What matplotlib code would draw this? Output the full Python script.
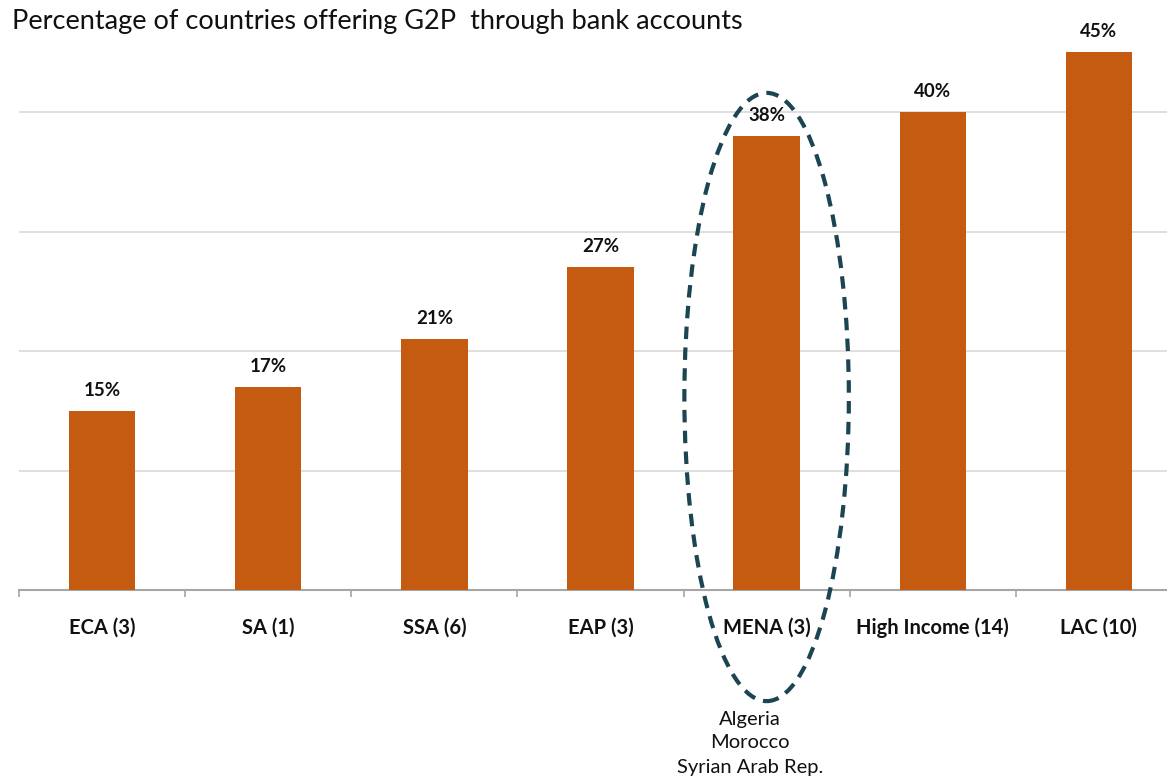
import matplotlib.pyplot as plt
from matplotlib.patches import Ellipse

categories = ["ECA (3)", "SA (1)", "SSA (6)", "EAP (3)", "MENA (3)", "High Income (14)", "LAC (10)"]
values = [15, 17, 21, 27, 38, 40, 45]
labels = ["15%", "17%", "21%", "27%", "38%", "40%", "45%"]
mena_countries = ["Algeria", "Morocco", "Syrian Arab Rep."]

plt.rcParams['font.family'] = ['Lato', 'DejaVu Sans']

fig = plt.figure(figsize=(11.67, 7.79), dpi=100)
ax = fig.add_axes([19/1167, 1 - 590/779, 1 - 19/1167, 573.6/779])

x = range(len(categories))
ax.bar(x, values, width=0.4, color='#C55A11', zorder=3)

for xi, v, lab in zip(x, values, labels):
    ax.text(xi, v + 1.0, lab, ha='center', va='bottom', fontsize=13.5, fontweight='bold', color='#111111')

ax.set_yticks([10, 20, 30, 40])
ax.yaxis.grid(True, color='#d9d9d9', linewidth=1.2, zorder=0)
ax.tick_params(axis='y', left=False, labelleft=False)

ax.set_xticks(list(x))
ax.set_xticklabels(categories, fontsize=14.5, fontweight='bold', color='#111111')
ax.set_xticks([i - 0.5 for i in range(len(categories) + 1)], minor=True)
ax.tick_params(axis='x', which='major', length=0, pad=20)
ax.tick_params(axis='x', which='minor', length=5, color='#a6a6a6', width=1.2)

# limits after the ticks, otherwise set_xticks widens the view
ax.set_xlim(-0.5, 6.41)
ax.set_ylim(0, 48)

for s in ['top', 'right', 'left']:
    ax.spines[s].set_visible(False)
ax.spines['bottom'].set_color('#a6a6a6')
ax.spines['bottom'].set_linewidth(1.5)

ell = Ellipse((4.0, 16.15), width=0.99, height=50.9, fill=False, edgecolor='#1b4552',
              linewidth=3, linestyle=(0, (3, 2)), clip_on=False, zorder=4)
ax.add_patch(ell)

fig.text(750/1167, 1 - 743/779, "\n".join(mena_countries), ha='center', va='center',
         fontsize=14.5, linespacing=1.5, color='#111111')

fig.text(12/1167, 1 - 22/779, "Percentage of countries offering G2P  through bank accounts",
         ha='left', va='center', fontsize=19.5, color='#111111')

fig.savefig('out.png', dpi=100)
